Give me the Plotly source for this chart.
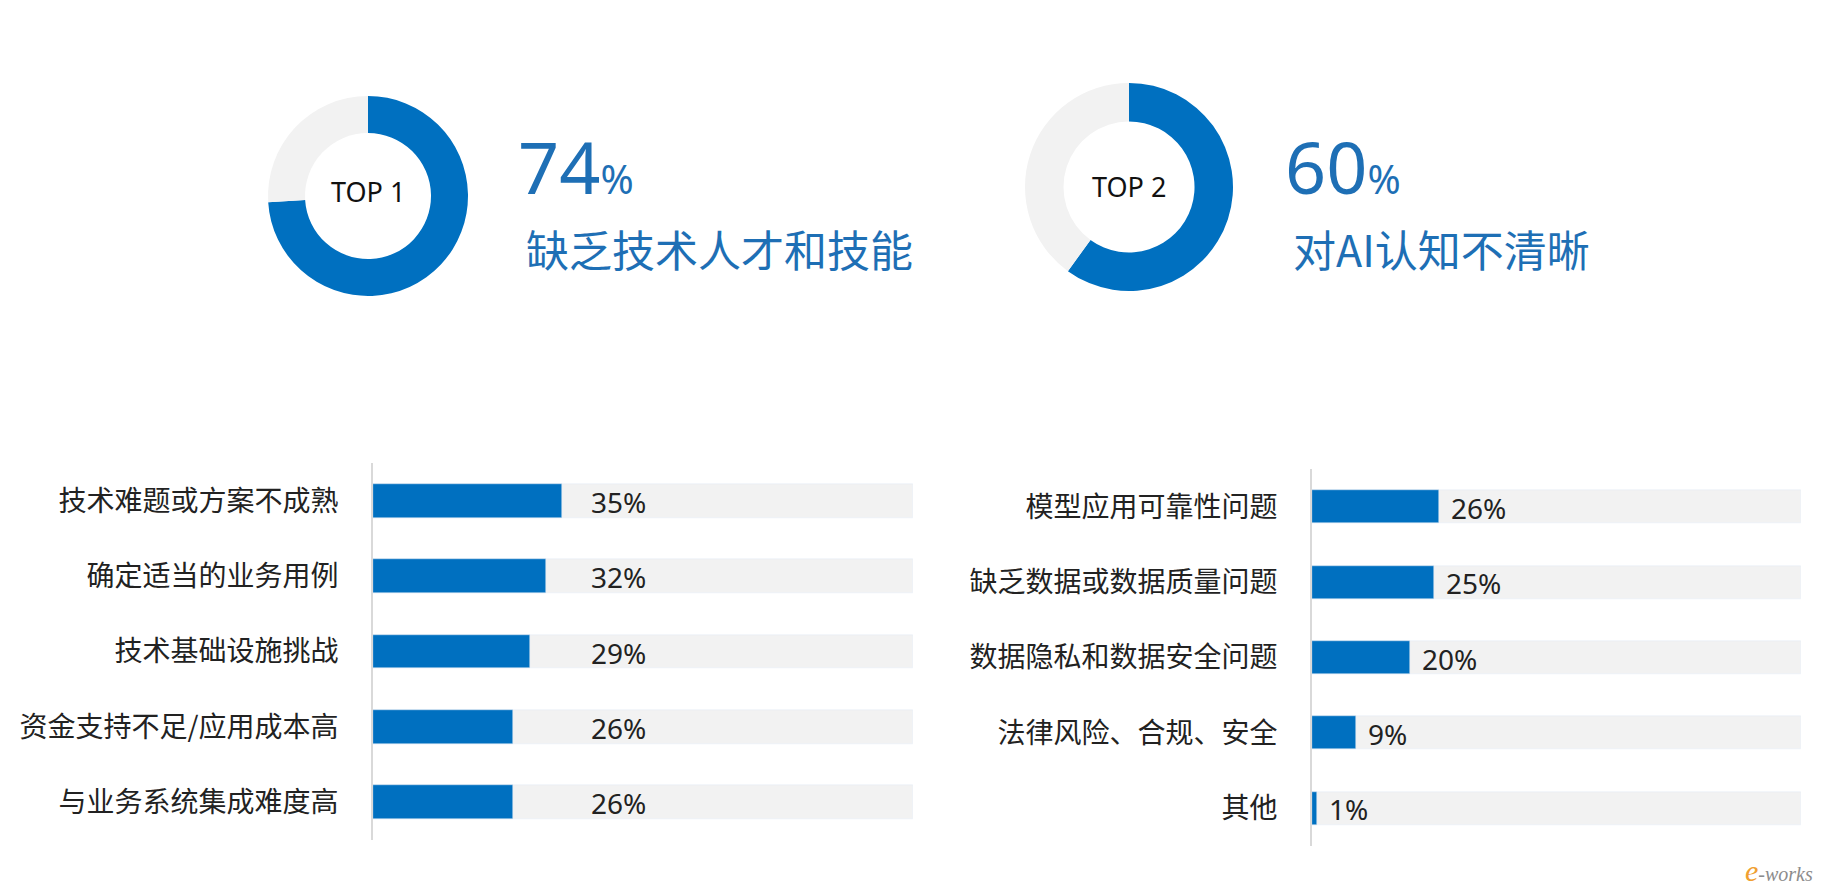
import plotly.graph_objects as go

# ---------------- data ----------------
top1_label = "TOP 1"
top1_value = 74
top1_text = "缺乏技术人才和技能"
top2_label = "TOP 2"
top2_value = 60
top2_text = "对AI认知不清晰"

left_categories = ["技术难题或方案不成熟", "确定适当的业务用例", "技术基础设施挑战",
                   "资金支持不足/应用成本高", "与业务系统集成难度高"]
left_values = [35, 32, 29, 26, 26]

right_categories = ["模型应用可靠性问题", "缺乏数据或数据质量问题", "数据隐私和数据安全问题",
                    "法律风险、合规、安全", "其他"]
right_values = [26, 25, 20, 9, 1]

FULL = 100

# ---------------- style ----------------
W, H = 1824, 892
BLUE = "#0070C0"
GRAY = "#F2F2F2"
AXIS = "#D9D9D9"
TXT_BLUE = "#1E6FB5"
DARK = "#222222"
FONT = "Noto Sans CJK SC"

def px_dom(a, b, total):
    return [a / total, b / total]

def pie_domain(cx, cy, r):
    return dict(x=px_dom(cx - r, cx + r, W), y=[(H - cy - r) / H, (H - cy + r) / H])

fig = go.Figure()

for val, (cx, cy, r) in [(top1_value, (368, 196, 100)), (top2_value, (1129, 187, 104))]:
    fig.add_trace(go.Pie(
        values=[val, FULL - val], sort=False, direction="clockwise", rotation=0,
        hole=0.63, marker=dict(colors=[BLUE, GRAY], line=dict(width=0)),
        textinfo="none", hoverinfo="skip", showlegend=False,
        domain=pie_domain(cx, cy, r)))

# ---------------- bars ----------------
def add_bars(cats, vals, xa, ya, width):
    fig.add_trace(go.Bar(y=cats, x=[FULL] * len(cats), orientation="h", marker_color=GRAY,
                         width=width, xaxis=xa, yaxis=ya, hoverinfo="skip", showlegend=False))
    fig.add_trace(go.Bar(y=cats, x=vals, orientation="h", marker_color=BLUE,
                         width=width, xaxis=xa, yaxis=ya, hoverinfo="skip", showlegend=False))

add_bars(left_categories, left_values, "x", "y", 0.45)
add_bars(right_categories, right_values, "x2", "y2", 0.44)

axis_x = dict(range=[0, FULL], showgrid=False, zeroline=False, showticklabels=False,
              showline=False, fixedrange=True)
axis_y = dict(autorange="reversed", showgrid=False, zeroline=False, showline=True,
              linecolor=AXIS, linewidth=2, ticks="", ticklabelstandoff=27,
              tickfont=dict(family=FONT, size=28, color=DARK), fixedrange=True)

layout_anns = []
# top headline texts
for (x0, y0, val, txt) in [(516, 166, top1_value, top1_text), (1283, 166, top2_value, top2_text)]:
    layout_anns.append(dict(
        x=x0 / W, y=(H - y0) / H, xref="paper", yref="paper", xanchor="left", yanchor="middle",
        showarrow=False,
        text=f"{val}<span style='font-size:40px'>%</span>",
        font=dict(family="Noto Sans", size=72, color=TXT_BLUE)))
    layout_anns.append(dict(
        x=(x0 + 8) / W, y=(H - 248) / H, xref="paper", yref="paper", xanchor="left",
        yanchor="middle", showarrow=False, text=txt,
        font=dict(family=FONT, size=43, color=TXT_BLUE)))

# donut center labels
for (cx, cy, lab) in [(368, 192, top1_label), (1129, 186, top2_label)]:
    layout_anns.append(dict(x=cx / W, y=(H - cy) / H, xref="paper", yref="paper",
                            xanchor="center", yanchor="middle",
                            showarrow=False, text=lab,
                            font=dict(family="Noto Sans", size=27, color="#111111")))

# value labels
for c, v in zip(left_categories, left_values):
    layout_anns.append(dict(x=40, y=c, xref="x", yref="y", xanchor="left", yanchor="middle",
                            showarrow=False, yshift=-1, text=f"{v}%",
                            font=dict(family="Noto Sans", size=28, color=DARK)))
for c, v in zip(right_categories, right_values):
    layout_anns.append(dict(x=v, y=c, xref="x2", yref="y2", xanchor="left", yanchor="middle",
                            showarrow=False, xshift=10, yshift=-1, text=f"{v}%",
                            font=dict(family="Noto Sans", size=28, color=DARK)))

# watermark
layout_anns.append(dict(x=1815 / W, y=(H - 870) / H, xref="paper", yref="paper",
                        xanchor="right", yanchor="middle", showarrow=False,
                        text="<i><span style='color:#F0A030;font-size:30px'>e</span>-works</i>",
                        font=dict(family="Liberation Serif", size=20, color="#8C8C8C")))

fig.update_layout(
    width=W, height=H, margin=dict(l=0, r=0, t=0, b=0),
    paper_bgcolor="white", plot_bgcolor="white",
    barmode="overlay", bargap=0,
    xaxis=dict(axis_x, domain=px_dom(373, 913, W), anchor="y"),
    yaxis=dict(axis_y, domain=[(H - 840) / H, (H - 463) / H], anchor="x"),
    xaxis2=dict(axis_x, domain=px_dom(1312, 1801, W), anchor="y2"),
    yaxis2=dict(axis_y, domain=[(H - 846) / H, (H - 469) / H], anchor="x2"),
    annotations=layout_anns,
    showlegend=False,
)

fig.write_html("out.html")
